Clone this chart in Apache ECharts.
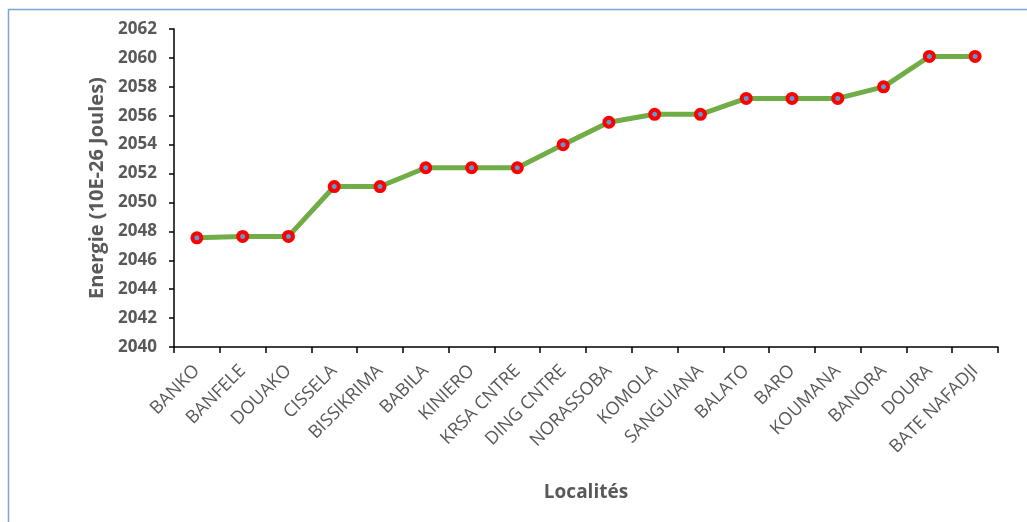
<!DOCTYPE html>
<html>
<head>
	<meta charset="UTF-8">
	<title>Energie par localité</title>
	<style>
		html, body { margin: 0; padding: 0; background: #fff; }
		#chart { width: 1027px; height: 522px; }
	</style>
</head>
<body>
<div id="chart"></div>
<script src="https://cdn.jsdelivr.net/npm/echarts@6/dist/echarts.min.js"></script>
<script>
// localités et énergie (10E-26 Joules)
var localites = ['BANKO', 'BANFELE', 'DOUAKO', 'CISSELA', 'BISSIKRIMA', 'BABILA', 'KINIERO', 'KRSA CNTRE', 'DING CNTRE',
	'NORASSOBA', 'KOMOLA', 'SANGUIANA', 'BALATO', 'BARO', 'KOUMANA', 'BANORA', 'DOURA', 'BATE NAFADJI'];
var energie = [2047.55, 2047.65, 2047.65, 2051.1, 2051.1, 2052.4, 2052.4, 2052.4, 2054.0,
	2055.55, 2056.1, 2056.1, 2057.2, 2057.2, 2057.2, 2058.0, 2060.1, 2060.1];
var yMin = 2040, yMax = 2062, yStep = 2;

var font = '"Open Sans", "Noto Sans", sans-serif';
var chart = echarts.init(document.getElementById('chart'));
var option = {
	backgroundColor: '#fff',
	animation: false,
	graphic: [{
		type: 'rect',
		shape: { x: 8.5, y: 9.5, width: 1100, height: 600 },
		style: { fill: 'none', stroke: '#7aa6d8', lineWidth: 1.5 }
	}],
	grid: { left: 174, right: 29, top: 29, bottom: 175 },
	xAxis: {
		type: 'category',
		data: localites,
		boundaryGap: true,
		name: 'Localités',
		nameLocation: 'middle',
		nameGap: 136,
		nameTextStyle: { color: '#595959', fontSize: 19, fontWeight: 'bold', fontFamily: font },
		axisLine: { lineStyle: { color: '#000', width: 1.5 } },
		axisTick: { show: true, length: 6, lineStyle: { color: '#000', width: 1.5 } },
		axisLabel: { rotate: 45, color: '#595959', fontSize: 18, fontFamily: font, margin: 21, interval: 0 },
		splitLine: { show: false }
	},
	yAxis: {
		type: 'value',
		min: yMin,
		max: yMax,
		interval: yStep,
		name: 'Energie (10E-26 Joules)',
		nameLocation: 'middle',
		nameGap: 66,
		nameTextStyle: { color: '#595959', fontSize: 20, fontWeight: 'bold', fontFamily: font },
		axisLine: { show: true, lineStyle: { color: '#000', width: 1.5 } },
		axisTick: { show: true, length: 5, lineStyle: { color: '#000', width: 1.5 } },
		axisLabel: { color: '#595959', fontSize: 17, fontWeight: 'bold', fontFamily: font, margin: 17,
			formatter: function (v) { return String(v); } },
		splitLine: { show: false }
	},
	series: [{
		type: 'line',
		data: energie,
		symbol: 'circle',
		symbolSize: 9,
		lineStyle: { color: '#70ad47', width: 5 },
		itemStyle: { color: '#5b9bd5', borderColor: '#ff0000', borderWidth: 4 },
		z: 3
	}]
};
chart.setOption(option);
</script>
</body>
</html>
